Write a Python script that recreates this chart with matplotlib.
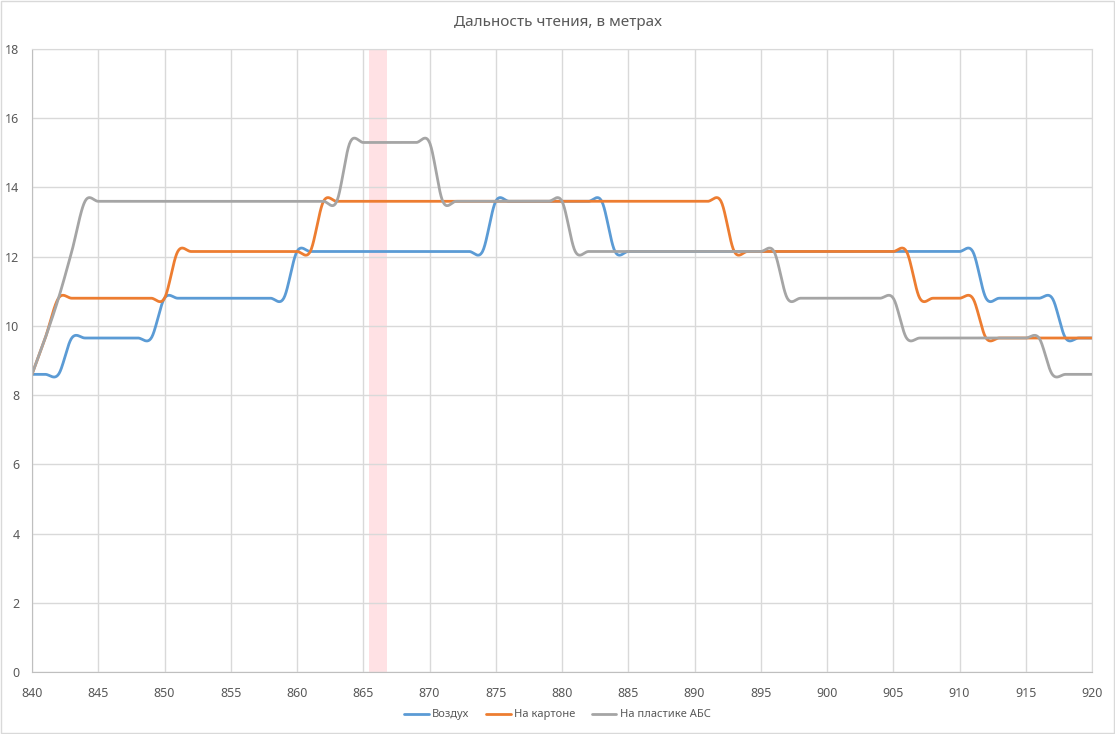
import numpy as np
import matplotlib
matplotlib.use('Agg')
from matplotlib import pyplot as plt
from matplotlib.patches import Rectangle

plt.rcParams['font.family'] = ['Noto Sans', 'DejaVu Sans']

# частота, МГц
freq = list(range(840, 921))

vozduh = [8.6, 8.6, 8.6, 9.65, 9.65, 9.65, 9.65, 9.65, 9.65, 9.65,
          10.8, 10.8, 10.8, 10.8, 10.8, 10.8, 10.8, 10.8, 10.8, 10.8,
          12.15, 12.15, 12.15, 12.15, 12.15, 12.15, 12.15, 12.15, 12.15, 12.15,
          12.15, 12.15, 12.15, 12.15, 12.15, 13.6, 13.6, 13.6, 13.6, 13.6,
          13.6, 13.6, 13.6, 13.6, 12.15, 12.15, 12.15, 12.15, 12.15, 12.15,
          12.15, 12.15, 12.15, 12.15, 12.15, 12.15, 12.15, 12.15, 12.15, 12.15,
          12.15, 12.15, 12.15, 12.15, 12.15, 12.15, 12.15, 12.15, 12.15, 12.15,
          12.15, 12.15, 10.8, 10.8, 10.8, 10.8, 10.8, 10.8, 9.65, 9.65,
          9.65]

karton = [8.6, 9.65, 10.8, 10.8, 10.8, 10.8, 10.8, 10.8, 10.8, 10.8,
          10.8, 12.15, 12.15, 12.15, 12.15, 12.15, 12.15, 12.15, 12.15, 12.15,
          12.15, 12.15, 13.6, 13.6, 13.6, 13.6, 13.6, 13.6, 13.6, 13.6,
          13.6, 13.6, 13.6, 13.6, 13.6, 13.6, 13.6, 13.6, 13.6, 13.6,
          13.6, 13.6, 13.6, 13.6, 13.6, 13.6, 13.6, 13.6, 13.6, 13.6,
          13.6, 13.6, 13.6, 12.15, 12.15, 12.15, 12.15, 12.15, 12.15, 12.15,
          12.15, 12.15, 12.15, 12.15, 12.15, 12.15, 12.15, 10.8, 10.8, 10.8,
          10.8, 10.8, 9.65, 9.65, 9.65, 9.65, 9.65, 9.65, 9.65, 9.65,
          9.65]

abs_plastic = [8.6, 9.65, 10.8, 12.15, 13.6, 13.6, 13.6, 13.6, 13.6, 13.6,
               13.6, 13.6, 13.6, 13.6, 13.6, 13.6, 13.6, 13.6, 13.6, 13.6,
               13.6, 13.6, 13.6, 13.6, 15.3, 15.3, 15.3, 15.3, 15.3, 15.3,
               15.3, 13.6, 13.6, 13.6, 13.6, 13.6, 13.6, 13.6, 13.6, 13.6,
               13.6, 12.15, 12.15, 12.15, 12.15, 12.15, 12.15, 12.15, 12.15, 12.15,
               12.15, 12.15, 12.15, 12.15, 12.15, 12.15, 12.15, 10.8, 10.8, 10.8,
               10.8, 10.8, 10.8, 10.8, 10.8, 10.8, 9.65, 9.65, 9.65, 9.65,
               9.65, 9.65, 9.65, 9.65, 9.65, 9.65, 9.65, 8.6, 8.6, 8.6,
               8.6]

names = ['Воздух', 'На картоне', 'На пластике АБС']
colors = ['#5B9BD5', '#ED7D31', '#A5A5A5']

band = (865.4, 866.8)


def smooth(x, y, n=24):
    # сглаживание как в Excel (Catmull-Rom через Безье)
    x = np.asarray(x, float)
    y = np.asarray(y, float)
    P = np.column_stack([x, y])
    N = len(P)
    t = np.linspace(0, 1, n)[:, None]
    out = []
    for i in range(N - 1):
        p0 = P[max(i - 1, 0)]
        p1 = P[i]
        p2 = P[i + 1]
        p3 = P[min(i + 2, N - 1)]
        c1 = p1 + (p2 - p0) / 6
        c2 = p2 - (p3 - p1) / 6
        seg = ((1 - t) ** 3) * p1 + 3 * ((1 - t) ** 2) * t * c1 \
            + 3 * (1 - t) * t ** 2 * c2 + t ** 3 * p2
        out.append(seg if i == 0 else seg[1:])
    out = np.vstack(out)
    return out[:, 0], out[:, 1]


fig = plt.figure(figsize=(11.15, 7.34), dpi=100)
ax = fig.add_axes([0.0287, 0.0845, 0.9507, 0.8487])

ax.axvspan(band[0], band[1], color='#FFE1E4', lw=0, zorder=0)

for ys, name, c in zip([vozduh, karton, abs_plastic], names, colors):
    sx, sy = smooth(freq, ys)
    ax.plot(sx, sy, color=c, lw=2.0, label=name, solid_capstyle='round')

ax.set_xlim(840, 920)
ax.set_ylim(0, 18)
ax.set_xticks(range(840, 921, 5))
ax.set_yticks(range(0, 19, 2))
ax.grid(True, color='#D9D9D9', lw=1)
ax.set_axisbelow(True)
ax.tick_params(length=0, labelsize=9, labelcolor='#595959')
ax.tick_params(axis='x', pad=11)
ax.tick_params(axis='y', pad=9)
for s in ['top', 'right']:
    ax.spines[s].set_color('#D9D9D9')
for s in ['left', 'bottom']:
    ax.spines[s].set_color('#BFBFBF')

fig.text(0.5, 0.970, 'Дальность чтения, в метрах', ha='center', va='center',
         fontsize=11, color='#595959')

fig.legend(loc='center', bbox_to_anchor=(0.5, 0.026), ncol=3, frameon=False,
           fontsize=8, handlelength=2.2, columnspacing=1.5, handletextpad=0.3,
           labelcolor='#595959')

fig.patches.append(Rectangle((0.001, 0.001), 0.998, 0.997, transform=fig.transFigure,
                             fill=False, edgecolor='#D9D9D9', lw=1))

fig.savefig('out.png', dpi=100)
